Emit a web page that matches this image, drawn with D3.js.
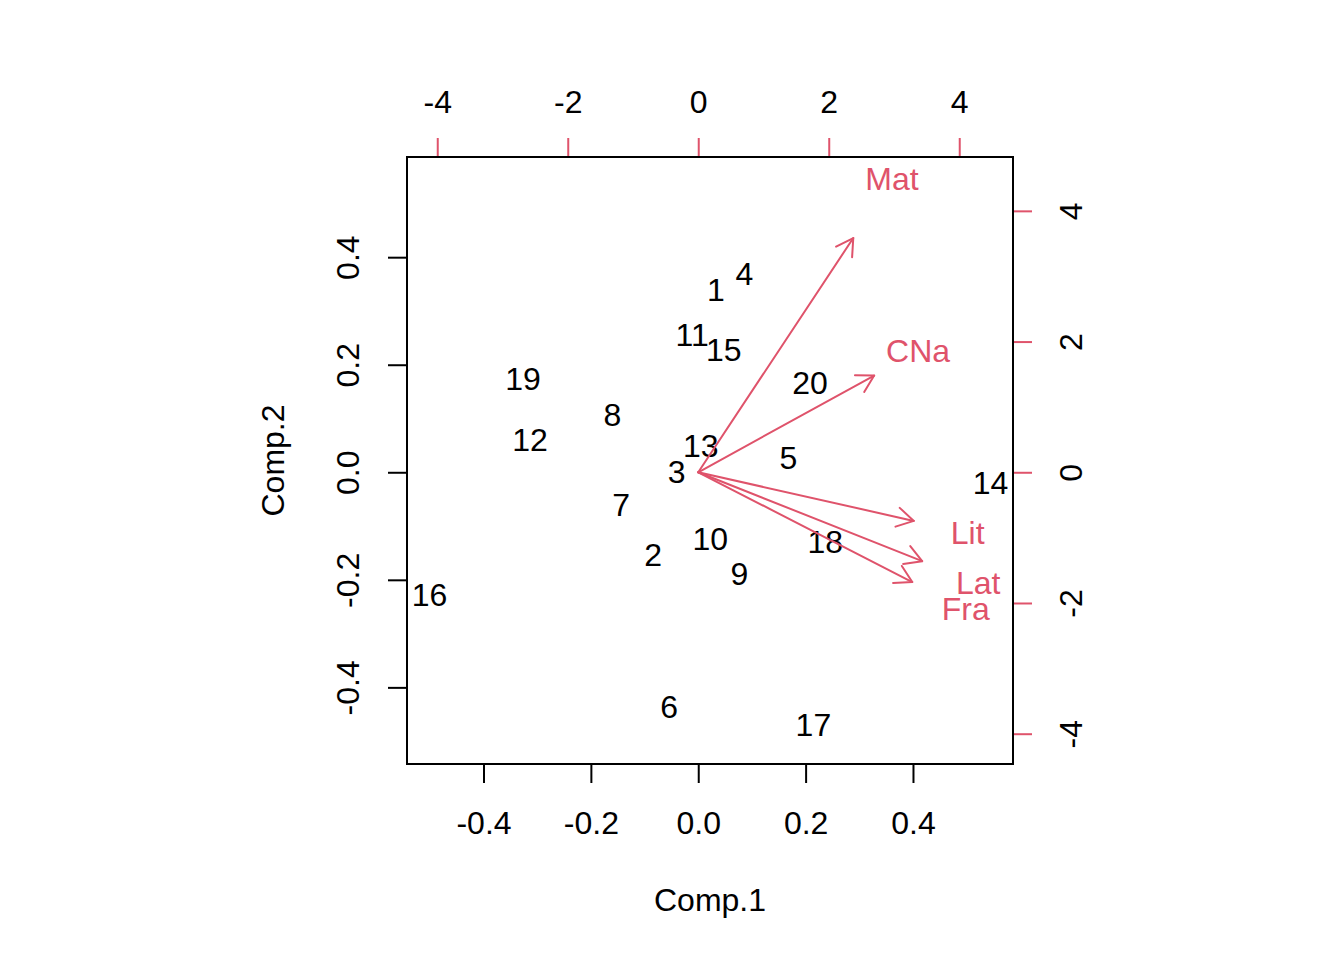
<!DOCTYPE html>
<html><head><meta charset="utf-8">
<script src="https://cdn.jsdelivr.net/npm/d3@7"></script>
<style>
body{margin:0;background:#fff}
text{font-family:"Liberation Sans",Arial,Helvetica,sans-serif}
</style>
</head><body><svg id="c" width="1344" height="960"></svg>
<script>
// ---- data ----
const obsLabels = ["1","2","3","4","5","6","7","8","9","10","11","12","13","14","15","16","17","18","19","20"];
const comp1 = [0.0330,-0.0839,-0.0401,0.0858,0.1678,-0.0541,-0.1436,-0.1598,0.0765,0.0224,-0.0112,-0.3133,0.0047,0.5445,0.0476,-0.5007,0.2145,0.2368,-0.3263,0.2083];
const comp2 = [0.3385,-0.1548,0.0000,0.3674,0.0252,-0.4382,-0.0625,0.1063,-0.1902,-0.1249,0.2545,0.0597,0.0485,-0.0205,0.2266,-0.2284,-0.4699,-0.1305,0.1734,0.1650];
const varNames = ["Mat","CNa","Lit","Lat","Fra"];
const varComp1 = [2.97,3.37,4.13,4.29,4.10];
const varComp2 = [4.48,1.85,-0.93,-1.70,-2.10];
const scoreTicks = [-0.4,-0.2,0.0,0.2,0.4];
const loadingTicks = [-4,-2,0,2,4];
const xTitle = "Comp.1", yTitle = "Comp.2";

// ---- layout ----
const box = {l:407, r:1013, t:157, b:764};
const FS = 32;
const red = "#DF536B";
const svg = d3.select("#c");

// limits as in R biplot: unsigned range over both columns, 4% expansion
const all = comp1.concat(comp2);
const lo = -Math.abs(d3.min(all)), hi = Math.abs(d3.max(all));
const ext = (hi - lo) * 0.04;
const lim = [lo - ext, hi + ext];
const ur = a => [Math.abs(d3.min(a)), Math.abs(d3.max(a))];
const rx = [Math.abs(lo), Math.abs(hi)];
const r1 = ur(varComp1), r2 = ur(varComp2);
const ratio = d3.max([r1[0]/rx[0], r1[1]/rx[1], r2[0]/rx[0], r2[1]/rx[1]]);

const x = d3.scaleLinear().domain(lim).range([box.l, box.r]);
const y = d3.scaleLinear().domain(lim).range([box.b, box.t]);
const xv = d3.scaleLinear().domain(lim.map(v => v*ratio)).range([box.l, box.r]);
const yv = d3.scaleLinear().domain(lim.map(v => v*ratio)).range([box.b, box.t]);

const hy = s => s.replace("\u2212", "-");
const fmt1 = d => hy(d3.format(".1f")(d));
const fmt0 = d => hy(d3.format("d")(d));
const VOFF = 0.33*FS;

// ---- observation labels ----
svg.append("g").selectAll("text").data(obsLabels).join("text")
  .attr("x", (d,i) => x(comp1[i]))
  .attr("y", (d,i) => y(comp2[i]) + VOFF)
  .attr("text-anchor","middle").attr("font-size",FS).attr("fill","#000")
  .text(d => d);

// ---- arrows ----
const ag = svg.append("g").attr("stroke", red).attr("stroke-width", 2).attr("fill","none").attr("stroke-linecap","round");
const head = 19.2, ang = Math.PI/6;
varNames.forEach((n,i) => {
  const x0 = xv(0), y0 = yv(0);
  const x1 = xv(0.8*varComp1[i]), y1 = yv(0.8*varComp2[i]);
  const th = Math.atan2(y1-y0, x1-x0);
  ag.append("line").attr("x1",x0).attr("y1",y0).attr("x2",x1).attr("y2",y1);
  const p = d3.path();
  p.moveTo(x1 - head*Math.cos(th-ang), y1 - head*Math.sin(th-ang));
  p.lineTo(x1, y1);
  p.lineTo(x1 - head*Math.cos(th+ang), y1 - head*Math.sin(th+ang));
  ag.append("path").attr("d", p.toString()).attr("stroke-linejoin","round");
});
svg.append("g").selectAll("text").data(varNames).join("text")
  .attr("x", (d,i) => xv(varComp1[i]))
  .attr("y", (d,i) => yv(varComp2[i]) + VOFF)
  .attr("text-anchor","middle").attr("font-size",FS).attr("fill",red)
  .text(d => d);

// ---- axes ----
function styleAxis(g, col){
  g.select(".domain").remove();
  g.selectAll(".tick line").attr("stroke", col).attr("stroke-width", 2);
  g.selectAll(".tick text").attr("font-size", FS).attr("fill","#000")
    .attr("font-family", '"Liberation Sans",Arial,Helvetica,sans-serif');
}
// bottom
const gb = svg.append("g").attr("transform",`translate(0,${box.b})`)
  .call(d3.axisBottom(x).tickValues(scoreTicks).tickFormat(fmt1).tickSize(19).tickSizeOuter(0));
styleAxis(gb, "#000");
gb.selectAll(".tick text").attr("y", 70).attr("dy", null);
// left
const gl = svg.append("g").attr("transform",`translate(${box.l},0)`)
  .call(d3.axisLeft(y).tickValues(scoreTicks).tickFormat(fmt1).tickSize(19).tickSizeOuter(0));
styleAxis(gl, "#000");
gl.selectAll(".tick text").attr("x", null).attr("dy", null)
  .attr("text-anchor","middle").attr("transform","translate(-48,0) rotate(-90)");
// top
const gt = svg.append("g").attr("transform",`translate(0,${box.t})`)
  .call(d3.axisTop(xv).tickValues(loadingTicks).tickFormat(fmt0).tickSize(19).tickSizeOuter(0));
styleAxis(gt, red);
gt.selectAll(".tick text").attr("y", -44.5).attr("dy", null);
// right
const gr = svg.append("g").attr("transform",`translate(${box.r},0)`)
  .call(d3.axisRight(yv).tickValues(loadingTicks).tickFormat(fmt0).tickSize(19).tickSizeOuter(0));
styleAxis(gr, red);
gr.selectAll(".tick text").attr("x", null).attr("dy", null)
  .attr("text-anchor","middle").attr("transform","translate(69,0) rotate(-90)");

// axis lines (R draws them from first to last tick)
svg.append("line").attr("x1", xv(loadingTicks[0])).attr("x2", xv(loadingTicks[loadingTicks.length-1]))
  .attr("y1", box.t).attr("y2", box.t).attr("stroke", red).attr("stroke-width", 2);
svg.append("line").attr("y1", yv(loadingTicks[0])).attr("y2", yv(loadingTicks[loadingTicks.length-1]))
  .attr("x1", box.r).attr("x2", box.r).attr("stroke", red).attr("stroke-width", 2);

// box
svg.append("rect").attr("x", box.l).attr("y", box.t).attr("width", box.r-box.l).attr("height", box.b-box.t)
  .attr("fill","none").attr("stroke","#000").attr("stroke-width",2);

// titles
svg.append("text").attr("x", (box.l+box.r)/2).attr("y", 911).attr("text-anchor","middle")
  .attr("font-size", FS).text(xTitle);
svg.append("text").attr("text-anchor","middle").attr("font-size", FS)
  .attr("transform", `translate(284,${(box.t+box.b)/2}) rotate(-90)`).text(yTitle);
</script></body></html>
